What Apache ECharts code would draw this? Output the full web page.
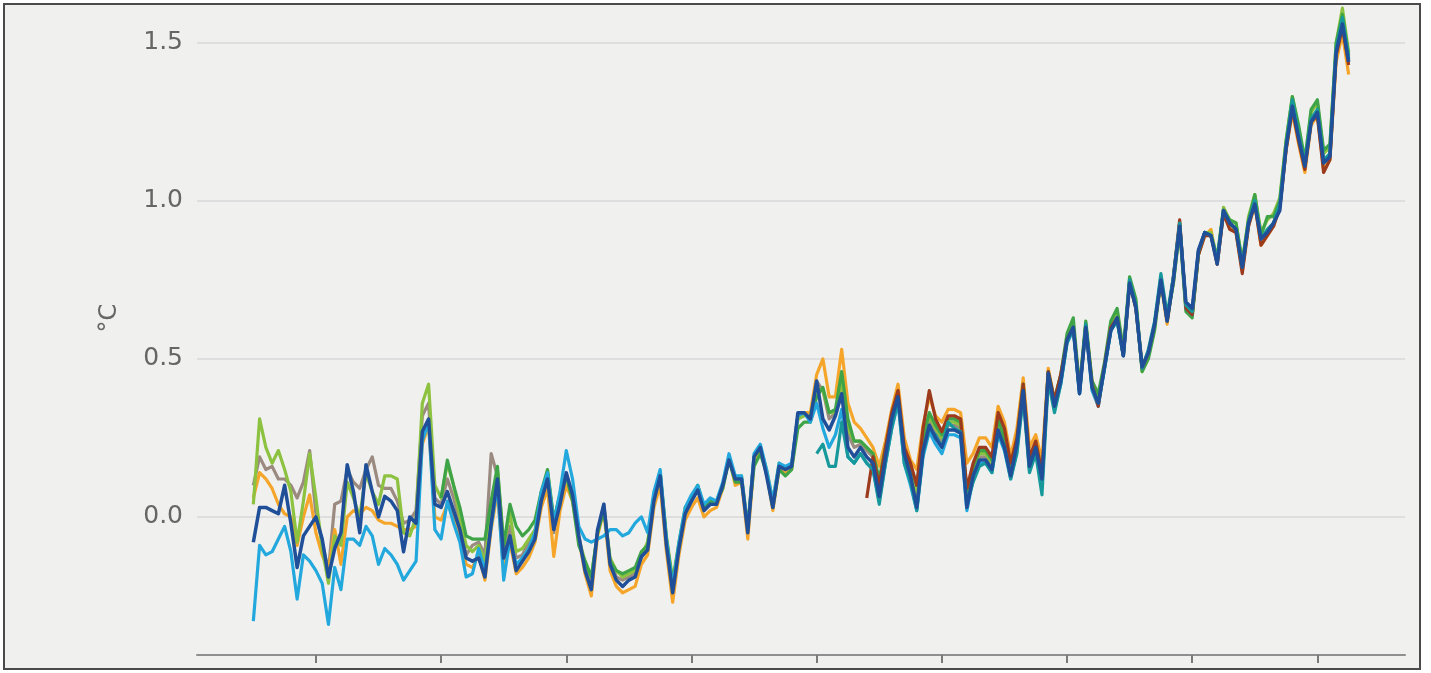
<!DOCTYPE html>
<html>
<head>
<meta charset="utf-8">
<title>Global mean temperature anomaly</title>
<script src="https://cdn.jsdelivr.net/npm/echarts@6/dist/echarts.min.js"></script>
<style>
  html, body { margin: 0; padding: 0; background: #fff; }
  #chart { width: 1431px; height: 673px; }
</style>
</head>
<body>
<div id="chart"></div>
<script>
// annual anomalies (°C vs 1850-1900)
const yTicks = [0, 0.5, 1.0, 1.5]
const xTicks = [1860, 1880, 1900, 1920, 1940, 1960, 1980, 2000, 2020]

const grayStart = 1850
const grayValues = [
  0.10, 0.19, 0.15, 0.16, 0.12, 0.12, 0.10, 0.06, 0.11, 0.21,
  0.01, -0.08, -0.17, 0.04, 0.05, 0.15, 0.11, 0.09, 0.15, 0.19,
  0.10, 0.09, 0.09, 0.05, -0.02, -0.01, 0.02, 0.32, 0.36, 0.06,
  0.04, 0.12, 0.06, -0.02, -0.12, -0.09, -0.08, -0.12, 0.20, 0.13,
  -0.12, -0.03, -0.13, -0.12, -0.08, -0.05, 0.06, 0.12, -0.05, 0.05,
  0.13, 0.07, -0.06, -0.16, -0.21, -0.05, 0.04, -0.14, -0.19, -0.20,
  -0.19, -0.18, -0.13, -0.10, 0.05, 0.13, -0.08, -0.22, -0.09, 0.02,
  0.05, 0.09, 0.02, 0.04, 0.04, 0.10, 0.19, 0.12, 0.12, -0.04,
  0.19, 0.22, 0.14, 0.04, 0.16, 0.15, 0.16, 0.32, 0.33, 0.32,
  0.43, 0.40, 0.31, 0.33, 0.43, 0.26, 0.22, 0.23, 0.21, 0.19,
  0.09, 0.20, 0.31, 0.38, 0.21, 0.14, 0.06, 0.23, 0.31, 0.27,
  0.24, 0.29, 0.29, 0.28, 0.06, 0.14, 0.19, 0.19, 0.16, 0.29,
  0.23, 0.14, 0.23, 0.41, 0.17, 0.22, 0.13, 0.45, 0.36, 0.43,
  0.56, 0.60, 0.40, 0.60, 0.42, 0.37, 0.48, 0.59, 0.63, 0.51,
  0.74, 0.66, 0.48, 0.52, 0.61, 0.75, 0.62, 0.75, 0.93, 0.67,
  0.65, 0.84, 0.90, 0.89, 0.81, 0.97, 0.93, 0.91, 0.79, 0.93,
  1.00, 0.88, 0.90, 0.93, 0.99, 1.17, 1.30, 1.20, 1.11, 1.25,
  1.28, 1.12, 1.14, 1.47, 1.56, 1.44
]

const orangeStart = 1850
const orangeValues = [
  0.06, 0.14, 0.12, 0.09, 0.04, 0.01, 0.00, -0.09, 0.00, 0.07,
  -0.05, -0.12, -0.17, -0.04, -0.15, 0.00, 0.02, 0.01, 0.03, 0.02,
  -0.01, -0.02, -0.02, -0.03, -0.04, -0.04, -0.03, 0.23, 0.29, 0.00,
  -0.01, 0.04, 0.00, -0.06, -0.15, -0.16, -0.12, -0.20, -0.04, 0.08,
  -0.17, -0.08, -0.18, -0.16, -0.13, -0.08, 0.03, 0.09, -0.125, 0.02,
  0.10, 0.05, -0.07, -0.18, -0.25, -0.06, 0.02, -0.17, -0.22, -0.24,
  -0.23, -0.22, -0.15, -0.12, 0.03, 0.10, -0.11, -0.27, -0.12, -0.01,
  0.03, 0.06, 0.00, 0.02, 0.03, 0.09, 0.19, 0.10, 0.11, -0.07,
  0.17, 0.21, 0.14, 0.02, 0.15, 0.14, 0.15, 0.31, 0.33, 0.33,
  0.45, 0.50, 0.38, 0.38, 0.53, 0.36, 0.30, 0.28, 0.25, 0.22,
  0.16, 0.24, 0.34, 0.42, 0.25, 0.18, 0.15, 0.29, 0.38, 0.32,
  0.30, 0.34, 0.34, 0.33, 0.17, 0.20, 0.25, 0.25, 0.22, 0.35,
  0.30, 0.19, 0.28, 0.44, 0.22, 0.26, 0.18, 0.47, 0.37, 0.45,
  0.56, 0.60, 0.41, 0.61, 0.43, 0.38, 0.48, 0.60, 0.63, 0.52,
  0.74, 0.67, 0.48, 0.52, 0.61, 0.74, 0.61, 0.76, 0.92, 0.66,
  0.64, 0.83, 0.89, 0.91, 0.80, 0.96, 0.92, 0.90, 0.78, 0.92,
  0.99, 0.86, 0.89, 0.92, 0.98, 1.16, 1.28, 1.18, 1.09, 1.24,
  1.27, 1.10, 1.13, 1.44, 1.53, 1.40
]

const limeStart = 1850
const limeValues = [
  0.04, 0.31, 0.22, 0.17, 0.21, 0.15, 0.08, -0.08, 0.05, 0.20,
  0.06, -0.10, -0.21, -0.06, -0.09, 0.11, 0.06, 0.00, 0.14, 0.08,
  0.04, 0.13, 0.13, 0.12, -0.05, -0.06, 0.00, 0.36, 0.42, 0.10,
  0.06, 0.17, 0.10, 0.00, -0.09, -0.11, -0.09, -0.14, 0.01, 0.15,
  -0.09, 0.01, -0.11, -0.10, -0.07, -0.04, 0.06, 0.14, -0.01, 0.07,
  0.13, 0.06, -0.07, -0.14, -0.19, -0.05, 0.03, -0.13, -0.17, -0.19,
  -0.18, -0.17, -0.12, -0.08, 0.07, 0.14, -0.06, -0.20, -0.08, 0.03,
  0.06, 0.10, 0.03, 0.05, 0.05, 0.10, 0.19, 0.12, 0.13, -0.03,
  0.19, 0.22, 0.15, 0.05, 0.17, 0.15, 0.16, 0.31, 0.32, 0.32,
  0.41, 0.40, 0.33, 0.33, 0.43, 0.28, 0.24, 0.24, 0.22, 0.20,
  0.11, 0.21, 0.31, 0.38, 0.21, 0.15, 0.08, 0.24, 0.32, 0.28,
  0.25, 0.30, 0.30, 0.29, 0.07, 0.15, 0.20, 0.20, 0.17, 0.30,
  0.24, 0.13, 0.22, 0.41, 0.16, 0.22, 0.11, 0.45, 0.36, 0.44,
  0.56, 0.61, 0.40, 0.61, 0.42, 0.37, 0.48, 0.61, 0.65, 0.52,
  0.75, 0.68, 0.46, 0.51, 0.60, 0.76, 0.63, 0.74, 0.92, 0.66,
  0.64, 0.84, 0.90, 0.90, 0.82, 0.98, 0.94, 0.93, 0.80, 0.95,
  1.02, 0.90, 0.94, 0.96, 1.01, 1.19, 1.33, 1.23, 1.12, 1.28,
  1.31, 1.15, 1.17, 1.50, 1.61, 1.47
]

const greenStart = 1880
const greenValues = [
  0.06, 0.18, 0.10, 0.03, -0.06, -0.07, -0.07, -0.07, 0.05, 0.16,
  -0.09, 0.04, -0.03, -0.06, -0.04, -0.01, 0.08, 0.15, -0.01, 0.07,
  0.13, 0.05, -0.09, -0.14, -0.19, -0.05, 0.02, -0.14, -0.17, -0.18,
  -0.17, -0.16, -0.11, -0.09, 0.06, 0.14, -0.07, -0.21, -0.09, 0.02,
  0.05, 0.10, 0.03, 0.05, 0.05, 0.09, 0.18, 0.11, 0.11, -0.03,
  0.16, 0.20, 0.14, 0.03, 0.15, 0.13, 0.15, 0.28, 0.30, 0.30,
  0.38, 0.41, 0.33, 0.34, 0.46, 0.31, 0.24, 0.24, 0.22, 0.20,
  0.12, 0.22, 0.31, 0.37, 0.21, 0.16, 0.10, 0.25, 0.33, 0.29,
  0.26, 0.31, 0.31, 0.30, 0.08, 0.16, 0.21, 0.21, 0.18, 0.31,
  0.25, 0.15, 0.24, 0.42, 0.17, 0.23, 0.12, 0.46, 0.37, 0.45,
  0.58, 0.63, 0.41, 0.62, 0.43, 0.39, 0.49, 0.62, 0.66, 0.53,
  0.76, 0.69, 0.46, 0.50, 0.59, 0.75, 0.63, 0.74, 0.91, 0.65,
  0.63, 0.83, 0.90, 0.89, 0.82, 0.97, 0.94, 0.93, 0.81, 0.94,
  1.02, 0.89, 0.95, 0.95, 1.00, 1.19, 1.33, 1.24, 1.13, 1.29,
  1.32, 1.16, 1.18, 1.50, 1.59, 1.46
]

const cyanStart = 1850
const cyanValues = [
  -0.33, -0.09, -0.12, -0.11, -0.07, -0.03, -0.11, -0.26, -0.12, -0.14,
  -0.17, -0.21, -0.34, -0.16, -0.23, -0.07, -0.07, -0.09, -0.03, -0.06,
  -0.15, -0.10, -0.12, -0.15, -0.20, -0.17, -0.14, 0.24, 0.30, -0.04,
  -0.07, 0.05, -0.02, -0.08, -0.19, -0.18, -0.10, -0.17, -0.03, 0.10,
  -0.20, -0.07, -0.15, -0.13, -0.10, -0.05, 0.08, 0.14, -0.02, 0.08,
  0.21, 0.12, -0.03, -0.07, -0.08, -0.07, -0.06, -0.04, -0.04, -0.06,
  -0.05, -0.02, 0.00, -0.05, 0.08, 0.15, -0.07, -0.22, -0.08, 0.03,
  0.07, 0.10, 0.04, 0.06, 0.05, 0.11, 0.20, 0.13, 0.13, -0.04,
  0.20, 0.23, 0.15, 0.05, 0.17, 0.16, 0.17, 0.32, 0.33, 0.30,
  0.36, 0.28, 0.22, 0.26, 0.34, 0.19, 0.17, 0.20, 0.17, 0.15,
  0.05, 0.17, 0.28, 0.36, 0.17, 0.10, 0.02, 0.19, 0.27, 0.23,
  0.20, 0.26, 0.26, 0.25, 0.02, 0.12, 0.17, 0.17, 0.14, 0.26,
  0.21, 0.12, 0.21, 0.39, 0.15, 0.21, 0.10, 0.44, 0.34, 0.42,
  0.55, 0.59, 0.39, 0.60, 0.40, 0.35, 0.47, 0.59, 0.62, 0.51,
  0.74, 0.66, 0.47, 0.52, 0.61, 0.75, 0.62, 0.76, 0.93, 0.66,
  0.64, 0.84, 0.90, 0.89, 0.81, 0.97, 0.93, 0.91, 0.79, 0.93,
  1.00, 0.88, 0.90, 0.93, 0.98, 1.17, 1.31, 1.20, 1.11, 1.25,
  1.28, 1.12, 1.15, 1.47, 1.57, 1.45
]

const redStart = 1948
const redValues = [
  0.06, 0.19, 0.10, 0.22, 0.33, 0.40, 0.22, 0.17, 0.10, 0.28,
  0.40, 0.31, 0.27, 0.32, 0.32, 0.31, 0.09, 0.17, 0.22, 0.22,
  0.19, 0.33, 0.28, 0.17, 0.25, 0.42, 0.19, 0.24, 0.14, 0.46,
  0.37, 0.45, 0.56, 0.60, 0.40, 0.60, 0.42, 0.35, 0.48, 0.60,
  0.63, 0.51, 0.74, 0.66, 0.47, 0.52, 0.61, 0.75, 0.62, 0.76,
  0.94, 0.66, 0.64, 0.83, 0.89, 0.89, 0.80, 0.96, 0.91, 0.90,
  0.77, 0.92, 0.99, 0.86, 0.89, 0.92, 0.98, 1.16, 1.29, 1.19,
  1.10, 1.25, 1.27, 1.09, 1.13, 1.46, 1.55, 1.43
]

const tealStart = 1940
const tealValues = [
  0.20, 0.23, 0.16, 0.16, 0.30, 0.19, 0.17, 0.20, 0.17, 0.15,
  0.04, 0.17, 0.28, 0.37, 0.17, 0.11, 0.02, 0.20, 0.28, 0.26,
  0.22, 0.30, 0.28, 0.27, 0.04, 0.11, 0.16, 0.17, 0.14, 0.27,
  0.22, 0.12, 0.20, 0.38, 0.14, 0.20, 0.07, 0.43, 0.33, 0.42,
  0.55, 0.60, 0.39, 0.61, 0.41, 0.36, 0.47, 0.59, 0.62, 0.51,
  0.75, 0.67, 0.47, 0.53, 0.62, 0.77, 0.64, 0.76, 0.93, 0.67,
  0.65, 0.84, 0.90, 0.89, 0.81, 0.97, 0.93, 0.91, 0.79, 0.93,
  1.00, 0.88, 0.91, 0.93, 0.99, 1.17, 1.32, 1.21, 1.12, 1.26,
  1.29, 1.13, 1.15, 1.48, 1.58, 1.45
]

const blueStart = 1850
const blueValues = [
  -0.08, 0.03, 0.03, 0.02, 0.01, 0.10, -0.02, -0.16, -0.06, -0.03,
  0.00, -0.07, -0.19, -0.10, -0.05, 0.165, 0.08, -0.05, 0.165, 0.08,
  0.00, 0.065, 0.05, 0.02, -0.11, 0.00, -0.02, 0.27, 0.31, 0.04,
  0.03, 0.08, 0.02, -0.04, -0.13, -0.14, -0.13, -0.19, -0.02, 0.12,
  -0.13, -0.06, -0.17, -0.14, -0.11, -0.07, 0.05, 0.12, -0.04, 0.04,
  0.14, 0.07, -0.06, -0.17, -0.23, -0.04, 0.04, -0.15, -0.20, -0.22,
  -0.20, -0.19, -0.125, -0.105, 0.05, 0.13, -0.09, -0.24, -0.10, 0.01,
  0.05, 0.085, 0.02, 0.04, 0.04, 0.10, 0.18, 0.12, 0.12, -0.05,
  0.19, 0.22, 0.13, 0.03, 0.16, 0.15, 0.16, 0.33, 0.33, 0.31,
  0.43, 0.31, 0.275, 0.32, 0.39, 0.22, 0.19, 0.22, 0.19, 0.17,
  0.065, 0.19, 0.31, 0.38, 0.20, 0.13, 0.03, 0.21, 0.29, 0.25,
  0.22, 0.275, 0.275, 0.265, 0.03, 0.13, 0.18, 0.18, 0.15, 0.275,
  0.22, 0.13, 0.23, 0.40, 0.16, 0.22, 0.12, 0.455, 0.35, 0.43,
  0.56, 0.60, 0.39, 0.60, 0.41, 0.36, 0.475, 0.59, 0.63, 0.51,
  0.74, 0.665, 0.475, 0.52, 0.61, 0.75, 0.62, 0.75, 0.92, 0.68,
  0.66, 0.845, 0.90, 0.89, 0.80, 0.97, 0.93, 0.91, 0.79, 0.93,
  0.99, 0.88, 0.90, 0.93, 0.97, 1.17, 1.30, 1.20, 1.11, 1.25,
  1.28, 1.12, 1.14, 1.47, 1.56, 1.44
]

function pairs(start, values) {
  return values.map((v, i) => [start + i, v])
}

function line(name, color, start, values, width) {
  return {
    name: name,
    type: 'line',
    showSymbol: false,
    symbol: 'none',
    data: pairs(start, values),
    lineStyle: { color: color, width: width || 3.2, join: 'round' },
    itemStyle: { color: color },
    emphasis: { disabled: true },
  }
}

let mychart = echarts.init(document.getElementById('chart'))
let option = {
  animation: false,
  backgroundColor: '#ffffff',
  graphic: [
    {
      type: 'rect',
      z: -10,
      silent: true,
      shape: { x: 4, y: 4, width: 1416, height: 665 },
      style: { fill: '#f0f0ef', stroke: '#4a4a4a', lineWidth: 2 },
    },
    {
      // unit label, rotated like an axis name
      type: 'text',
      silent: true,
      x: 110,
      y: 318,
      rotation: Math.PI / 2,
      style: {
        text: '°C',
        fill: '#666',
        fontSize: 24,
        fontFamily: 'DejaVu Sans',
        align: 'center',
        verticalAlign: 'middle',
      },
    },
  ],
  grid: {
    left: 197,
    right: 26,
    top: 5,
    bottom: 18,
    containLabel: false,
  },
  xAxis: {
    type: 'value',
    min: 1841,
    max: 2034,
    axisLine: { show: true, onZero: false, lineStyle: { color: '#8f8f8f', width: 2 } },
    axisTick: {
      show: true,
      customValues: xTicks,
      length: 8,
      lineStyle: { color: '#7a7a7a', width: 2 },
    },
    axisLabel: { show: false },
    splitLine: { show: false },
  },
  yAxis: {
    type: 'value',
    min: -0.437,
    max: 1.62,
    axisLine: { show: false },
    axisTick: { show: false, customValues: yTicks },
    axisLabel: {
      customValues: yTicks,
      color: '#666',
      fontSize: 25,
      fontFamily: 'DejaVu Sans',
      margin: 14,
      formatter: (v) => v.toFixed(1),
    },
    splitLine: { show: true, lineStyle: { color: '#dedede', width: 2 } },
  },
  series: [
    line('Berkeley Earth', '#9a8a80', grayStart, grayValues),
    line('NOAAGlobalTemp', '#f5a62a', orangeStart, orangeValues),
    line('HadCRUT5', '#8cc23f', limeStart, limeValues),
    line('GISTEMP', '#3fa447', greenStart, greenValues),
    line('DCENT', '#22a8dc', cyanStart, cyanValues),
    line('JRA-3Q', '#9c3a1e', redStart, redValues),
    line('ERA5', '#17999c', tealStart, tealValues),
    line('Kadow et al.', '#1f4f98', blueStart, blueValues, 3.5),
  ],
}

mychart.setOption(option)
window.addEventListener('resize', () => {
  mychart.resize()
})
</script>
</body>
</html>
